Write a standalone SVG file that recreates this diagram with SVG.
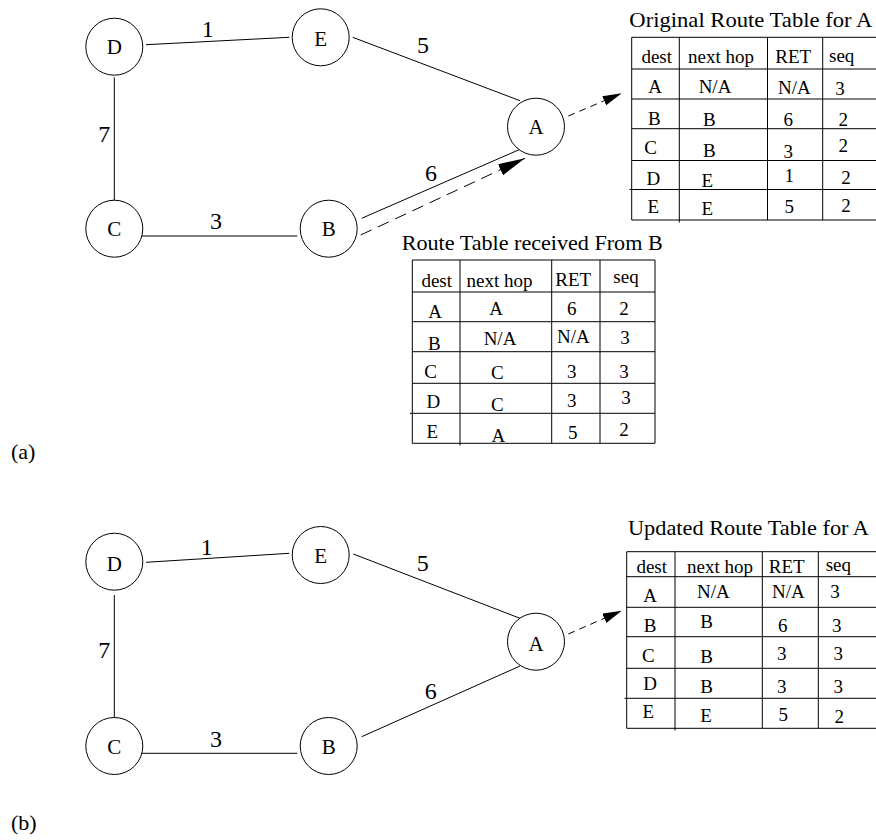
<svg xmlns="http://www.w3.org/2000/svg" width="876" height="840" viewBox="0 0 876 840">
<style>
text{font-family:"Liberation Serif","Times New Roman",serif;fill:#000}
.n{font-size:21px;text-anchor:middle}
.w{font-size:24px;text-anchor:middle}
.t{font-size:19px;text-anchor:middle}
.h{font-size:21px}
.cap{font-size:22px}
circle{fill:#fff;stroke:#000;stroke-width:1}
.e{stroke:#000;stroke-width:1;fill:none}
.g{stroke:#000;stroke-width:1;fill:none}
.d1{stroke:#000;stroke-width:1;fill:none;stroke-dasharray:12 7;marker-end:url(#big)}
.d2{stroke:#000;stroke-width:1;fill:none;stroke-dasharray:7 5;marker-end:url(#small)}
</style>
<defs>
<marker id="big" markerUnits="userSpaceOnUse" markerWidth="28" markerHeight="14" refX="27" refY="6" orient="auto"><path d="M0,0 L27,6 L0,12 z" fill="#000"/></marker>
<marker id="small" markerUnits="userSpaceOnUse" markerWidth="20" markerHeight="12" refX="19" refY="5" orient="auto"><path d="M0,0 L19,5 L0,10 z" fill="#000"/></marker>
</defs>

<g id="connectors">
<line class="e" x1="146" y1="44.7" x2="289.3" y2="37.3"/>
<line class="e" x1="114.3" y1="77.3" x2="114.3" y2="200.7"/>
<line class="e" x1="138.3" y1="236" x2="297.3" y2="236"/>
<line class="e" x1="352.7" y1="37.3" x2="520" y2="100.7"/>
<line class="e" x1="361.7" y1="218.3" x2="520.7" y2="149"/>
<line class="d1" x1="360.7" y1="235" x2="525" y2="158.3"/>
<line class="d2" x1="568.3" y1="116" x2="621.7" y2="93.3"/>

<line class="e" x1="146" y1="562.3" x2="289.3" y2="553.3"/>
<line class="e" x1="114.3" y1="595" x2="114.3" y2="721.7"/>
<line class="e" x1="138.3" y1="753.3" x2="297.3" y2="753.3"/>
<line class="e" x1="353.3" y1="554" x2="520" y2="618.3"/>
<line class="e" x1="361.7" y1="736.7" x2="520" y2="666"/>
<line class="d2" x1="568.3" y1="634" x2="621.7" y2="610.7"/>

<text class="w" x="207.7" y="37.3">1</text>
<text class="w" x="104.3" y="141.7">7</text>
<text class="w" x="216" y="229">3</text>
<text class="w" x="423" y="53">5</text>
<text class="w" x="431" y="180.5">6</text>

<text class="w" x="206.7" y="555">1</text>
<text class="w" x="104.3" y="658.3">7</text>
<text class="w" x="216" y="746.7">3</text>
<text class="w" x="422.7" y="570.5">5</text>
<text class="w" x="430.7" y="698.5">6</text>
</g>

<g id="a-node-D"><circle cx="114.3" cy="46.7" r="28.5"/><text class="n" x="114.3" y="54">D</text></g>
<g id="a-node-E"><circle cx="320.7" cy="37.3" r="28.5"/><text class="n" x="320.7" y="45.5">E</text></g>
<g id="a-node-C"><circle cx="114.3" cy="228.7" r="28.5"/><text class="n" x="114.3" y="236">C</text></g>
<g id="a-node-B"><circle cx="328.7" cy="228.7" r="28.5"/><text class="n" x="328.7" y="236">B</text></g>
<g id="a-node-A"><circle cx="536" cy="126.7" r="28.5"/><text class="n" x="536" y="134">A</text></g>

<g id="b-node-D"><circle cx="114.3" cy="561.7" r="28.5"/><text class="n" x="114.3" y="571">D</text></g>
<g id="b-node-E"><circle cx="320.7" cy="555" r="28.5"/><text class="n" x="320.7" y="562.5">E</text></g>
<g id="b-node-C"><circle cx="114.3" cy="746" r="28.5"/><text class="n" x="114.3" y="754">C</text></g>
<g id="b-node-B"><circle cx="328.7" cy="746" r="28.5"/><text class="n" x="328.7" y="754">B</text></g>
<g id="b-node-A"><circle cx="536" cy="641.7" r="28.5"/><text class="n" x="536" y="651">A</text></g>

<g id="table-original">
<text class="h" x="629.3" y="26.7" textLength="243" lengthAdjust="spacingAndGlyphs">Original Route Table for A</text>
<path class="g" d="M631.7,37.3 H876 M631.7,69 H876 M631.7,99 H876 M631.7,128.7 H876 M631.7,160.5 H876 M629.5,189.5 H876 M631.7,220 H876 M631.7,37.3 V220 M679.3,37.3 V222.5 M767.5,37.3 V220 M822.7,37.3 V220"/>
<text class="t" x="656.7" y="63">dest</text><text class="t" x="721" y="63">next hop</text><text class="t" x="793.3" y="63">RET</text><text class="t" x="841.7" y="62">seq</text>
<text class="t" x="655" y="93.3">A</text><text class="t" x="715" y="93">N/A</text><text class="t" x="794.3" y="94">N/A</text><text class="t" x="840" y="95">3</text>
<text class="t" x="654.3" y="125">B</text><text class="t" x="709.3" y="126">B</text><text class="t" x="788.3" y="125.7">6</text><text class="t" x="843.3" y="125.7">2</text>
<text class="t" x="650.7" y="154">C</text><text class="t" x="709.3" y="156.5">B</text><text class="t" x="788.3" y="158.3">3</text><text class="t" x="843.3" y="152.3">2</text>
<text class="t" x="653.3" y="185">D</text><text class="t" x="707.3" y="187.3">E</text><text class="t" x="789.3" y="182.3">1</text><text class="t" x="846" y="184">2</text>
<text class="t" x="653.3" y="213.3">E</text><text class="t" x="707.3" y="215">E</text><text class="t" x="789.3" y="212.7">5</text><text class="t" x="846" y="212.3">2</text>
</g>

<g id="table-received">
<text class="h" x="401.7" y="250" textLength="261" lengthAdjust="spacingAndGlyphs">Route Table received From B</text>
<path class="g" d="M412.3,260 H655 M412.3,292 H655 M412.3,321.7 H655 M412.3,351.7 H655 M412.3,383.3 H655 M410,413.3 H655 M412.3,443.3 H655 M412.3,260 V443.3 M460,260 V445.5 M551.7,260 V443.3 M600,260 V443.3 M655,260 V443.3"/>
<text class="t" x="436.7" y="286.7">dest</text><text class="t" x="499.5" y="286.7">next hop</text><text class="t" x="573.3" y="285.5">RET</text><text class="t" x="626" y="283.3">seq</text>
<text class="t" x="435" y="318.3">A</text><text class="t" x="496" y="315">A</text><text class="t" x="571.7" y="315">6</text><text class="t" x="624" y="315">2</text>
<text class="t" x="434.3" y="350">B</text><text class="t" x="500" y="345">N/A</text><text class="t" x="573.3" y="343.3">N/A</text><text class="t" x="625" y="344">3</text>
<text class="t" x="430.7" y="377.7">C</text><text class="t" x="497.3" y="379">C</text><text class="t" x="571.7" y="378.3">3</text><text class="t" x="624" y="378.3">3</text>
<text class="t" x="433.3" y="407.7">D</text><text class="t" x="497.3" y="411">C</text><text class="t" x="571.7" y="406.7">3</text><text class="t" x="626" y="404">3</text>
<text class="t" x="432.3" y="437.7">E</text><text class="t" x="498.3" y="441.7">A</text><text class="t" x="572.7" y="439">5</text><text class="t" x="624" y="435.7">2</text>
</g>

<g id="table-updated">
<text class="h" x="628" y="535" textLength="241" lengthAdjust="spacingAndGlyphs">Updated Route Table for A</text>
<path class="g" d="M626.7,551.7 H876 M626.7,576.7 H876 M626.7,607.3 H876 M626.7,636.7 H876 M626.7,668.3 H876 M624.5,698.3 H876 M626.7,728.3 H876 M626.7,551.7 V728.3 M675,551.7 V730.5 M762.3,551.7 V728.3 M818.3,551.7 V728.3"/>
<text class="t" x="651.7" y="572.7">dest</text><text class="t" x="720" y="572.7">next hop</text><text class="t" x="786.7" y="572.7">RET</text><text class="t" x="838.3" y="571">seq</text>
<text class="t" x="650" y="601.7">A</text><text class="t" x="713.3" y="598.3">N/A</text><text class="t" x="788.3" y="598.3">N/A</text><text class="t" x="835" y="598.3">3</text>
<text class="t" x="650" y="631.7">B</text><text class="t" x="706.7" y="628.3">B</text><text class="t" x="782.7" y="631.7">6</text><text class="t" x="836.7" y="631.7">3</text>
<text class="t" x="648.3" y="661.7">C</text><text class="t" x="706.7" y="663.3">B</text><text class="t" x="781.7" y="660">3</text><text class="t" x="838.3" y="660">3</text>
<text class="t" x="650" y="690">D</text><text class="t" x="706.7" y="693.3">B</text><text class="t" x="781.7" y="693.3">3</text><text class="t" x="838.3" y="693.3">3</text>
<text class="t" x="648.3" y="718.3">E</text><text class="t" x="706" y="721.7">E</text><text class="t" x="783.3" y="720.7">5</text><text class="t" x="839.3" y="722.7">2</text>
</g>

<text class="cap" x="11" y="459">(a)</text>
<text class="cap" x="11" y="830">(b)</text>
</svg>
